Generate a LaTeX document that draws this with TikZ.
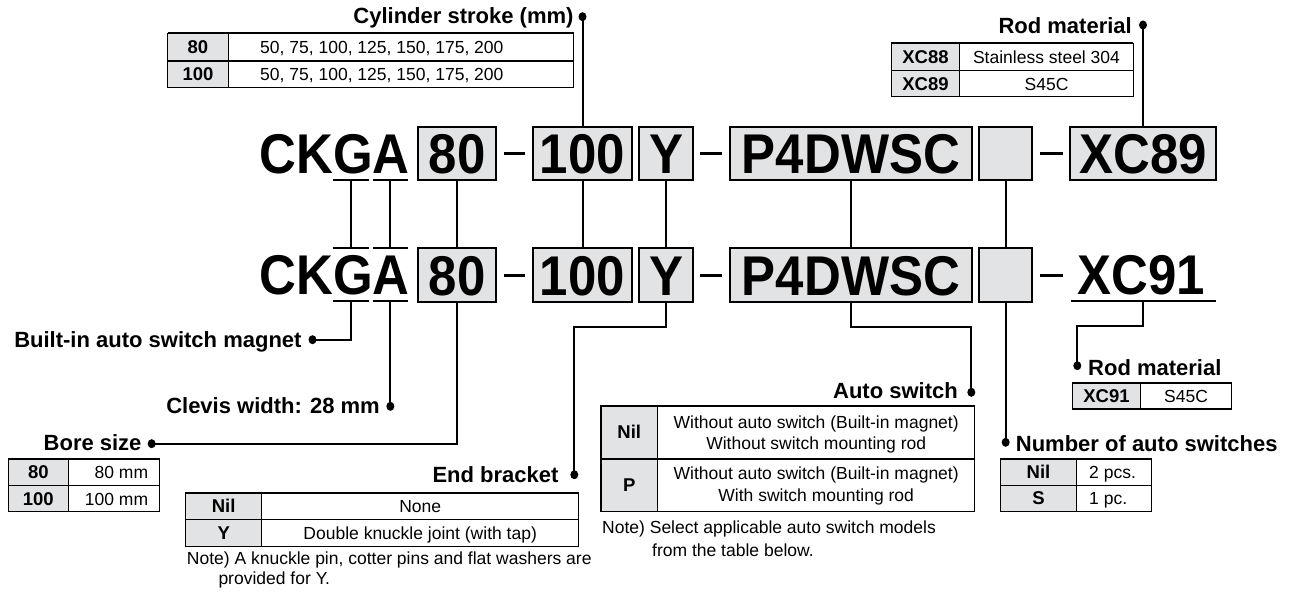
\documentclass[tikz,border=0pt]{standalone}
\usepackage{fontspec}
\setmainfont{Liberation Sans}
\newfontfamily\codefont[FakeStretch=0.91]{Liberation Sans}
\usetikzlibrary{shapes.geometric}
\definecolor{cellgray}{HTML}{E2E3E5}
\tikzset{
  codebox/.style={draw, line width=2.2pt, fill=cellgray, minimum height=53.3pt, inner sep=0pt,
    text height=40pt, text depth=0pt, font=\codefont\bfseries\fontsize{56}{56}\selectfont},
  codetext/.style={inner sep=0pt, font=\codefont\bfseries\fontsize{56}{56}\selectfont},
  lbl/.style={inner sep=0pt, font=\bfseries\fontsize{22}{22}\selectfont},
  cell/.style={inner sep=0pt, font=\fontsize{17.5}{21}\selectfont},
  bcell/.style={inner sep=0pt, font=\bfseries\fontsize{18.5}{21}\selectfont},
  conn/.style={line width=2pt},
  codedash/.style={line width=3pt},
  uline/.style={line width=2pt},
  tframe/.style={line width=1.2pt},
  ttop/.style={line width=2.4pt},
  dotnode/.style={ellipse, fill=black, inner sep=0pt, minimum width=8pt, minimum height=9pt},
}
\begin{document}
\begin{tikzpicture}[x=1pt,y=-1pt]
\useasboundingbox (0,0) rectangle (1295,596);

% ---------- row 1 ----------
\node[codetext, anchor=base west] (ckga1) at (259.3,173.3) {CKGA};
\draw[uline] (332.7,180) -- (369,180);
\draw[uline] (372.7,180) -- (408,180);
\coordinate (g1) at (350.85,180);
\coordinate (a1) at (390.35,180);
\node[codebox, minimum width=78pt]   (b80a) at (457.3,153.3) {80};
\draw[codedash] (503.7,153.3) -- (525.3,153.3);
\node[codebox, minimum width=99pt]   (b100a) at (582.5,153.3) {100};
\node[codebox, minimum width=53.4pt] (bYa) at (666,153.3) {Y};
\draw[codedash] (700.3,153.3) -- (722,153.3);
\node[codebox, minimum width=242.6pt] (bPa) at (851,153.3) {P4DWSC};
\node[codebox, minimum width=53.3pt] (bEa) at (1005.65,153.3) {};
\draw[codedash] (1039.7,153.3) -- (1063,153.3);
\node[codebox, minimum width=146.6pt] (bXa) at (1143,153.3) {XC89};

% ---------- row 2 ----------
\node[codetext, anchor=base west] (ckga2) at (259.3,294.9) {CKGA};
\draw[uline] (332.7,248.3) -- (369,248.3);
\draw[uline] (372.7,248.3) -- (408,248.3);
\draw[uline] (332.7,301.3) -- (369,301.3);
\draw[uline] (372.7,301.3) -- (408,301.3);
\coordinate (g2t) at (350.85,248.3);
\coordinate (a2t) at (390.35,248.3);
\coordinate (g2b) at (350.85,301.3);
\coordinate (a2b) at (390.35,301.3);
\node[codebox, minimum width=78pt]   (b80b) at (457.3,275) {80};
\draw[codedash] (503.7,275) -- (525.3,275);
\node[codebox, minimum width=99pt]   (b100b) at (582.5,275) {100};
\node[codebox, minimum width=53.4pt] (bYb) at (666,275) {Y};
\draw[codedash] (700.3,275) -- (722,275);
\node[codebox, minimum width=242.6pt] (bPb) at (851,275) {P4DWSC};
\node[codebox, minimum width=53.3pt] (bEb) at (1005.65,275) {};
\draw[codedash] (1039.7,275) -- (1063,275);
\node[codetext, anchor=base] (x91) at (1141,294.9) {XC91};
\draw[uline] (1070.7,300.7) -- (1215.7,300.7);
\coordinate (u91) at (1143.3,300.7);

% ---------- links between rows ----------
\draw[conn] (g1) -- (g2t);
\draw[conn] (a1) -- (a2t);
\draw[conn] (b80a.south) -- (b80b.north);
\draw[conn] (b100a.south) -- (b100b.north);
\draw[conn] (bYa.south) -- (bYb.north);
\draw[conn] (bPa.south) -- (bPb.north);
\draw[conn] (bEa.south) -- (bEb.north);

% ---------- Cylinder stroke ----------
\node[lbl, anchor=base east] (lcyl) at (573.7,24) {Cylinder stroke (mm)};
\node[dotnode] (dcyl) at (582.5,16.7) {};
\draw[conn] (b100a.north) -- (dcyl.center);
\fill[cellgray] (167.7,33.3) rectangle (228.3,87.7);
\draw[tframe] (167.7,33.3) rectangle (573.7,87.7);
\draw[tframe] (228.3,33.3) -- (228.3,87.7) (167.7,61) -- (573.7,61);
\draw[ttop] (167.7,33.3) -- (573.7,33.3);
\node[bcell, anchor=base] (cs1k) at (198,53.8) {80};
\node[bcell, anchor=base] (cs2k) at (198,80.8) {100};
\node[cell, anchor=base west] (cs1v) at (260,53.8) {50, 75, 100, 125, 150, 175, 200};
\node[cell, anchor=base west] (cs2v) at (260,80.8) {50, 75, 100, 125, 150, 175, 200};

% ---------- Rod material (top) ----------
\node[lbl, anchor=base east] (lrod1) at (1132,34) {Rod material};
\node[dotnode] (drod1) at (1143,25) {};
\draw[conn] (bXa.north) -- (drod1.center);
\fill[cellgray] (891.3,43.3) rectangle (959.7,96.7);
\draw[tframe] (891.3,43.3) rectangle (1133.3,96.7);
\draw[tframe] (959.7,43.3) -- (959.7,96.7) (891.3,70.7) -- (1133.3,70.7);
\draw[ttop] (891.3,43.3) -- (1133.3,43.3);
\node[bcell, anchor=base] (r1k) at (925.5,63.6) {XC88};
\node[bcell, anchor=base] (r2k) at (925.5,90.3) {XC89};
\node[cell, anchor=base] (r1v) at (1046.5,63.6) {Stainless steel 304};
\node[cell, anchor=base] (r2v) at (1046.5,90.3) {S45C};

% ---------- Built-in auto switch magnet ----------
\node[lbl, anchor=base east] (lmag) at (301.7,347.3) {Built-in auto switch magnet};
\node[dotnode] (dmag) at (312.5,339.7) {};
\draw[conn] (g2b) |- (dmag.center);

% ---------- Clevis width ----------
\node[lbl, anchor=base east] (lclev) at (380,413) {Clevis width: 28 mm};
\node[dotnode] (dclev) at (390.35,406.3) {};
\draw[conn] (a2b) -- (dclev.center);

% ---------- Bore size ----------
\node[lbl, anchor=base east] (lbore) at (141.7,450.7) {Bore size};
\node[dotnode] (dbore) at (151.7,443.7) {};
\draw[conn] (b80b.south) |- (dbore.center);
\fill[cellgray] (8.3,459) rectangle (68.3,511.3);
\draw[tframe] (8.3,459) rectangle (159.3,511.3);
\draw[tframe] (68.3,459) -- (68.3,511.3) (8.3,485.7) -- (159.3,485.7);
\draw[ttop] (8.3,459) -- (159.3,459);
\node[bcell, anchor=base] (bo1k) at (38.3,478.9) {80};
\node[bcell, anchor=base] (bo2k) at (38.3,505.1) {100};
\node[cell, anchor=base east] (bo1v) at (148.3,478.9) {80 mm};
\node[cell, anchor=base east] (bo2v) at (148.3,505.1) {100 mm};

% ---------- End bracket ----------
\node[lbl, anchor=base east] (lend) at (558.7,482.3) {End bracket};
\node[dotnode] (dend) at (574.3,474.7) {};
\draw[conn] (bYb.south) -- ++(0,24.1) -| (dend.center);
\fill[cellgray] (185.7,493) rectangle (261.7,546.3);
\draw[tframe] (185.7,493) rectangle (578.7,546.3);
\draw[tframe] (261.7,493) -- (261.7,546.3) (185.7,519.7) -- (578.7,519.7);
\draw[ttop] (185.7,493) -- (578.7,493);
\node[bcell, anchor=base] (e1k) at (223.7,512.9) {Nil};
\node[bcell, anchor=base] (e2k) at (223.7,539.6) {Y};
\node[cell, anchor=base] (e1v) at (420.2,512.9) {None};
\node[cell, anchor=base] (e2v) at (420.2,539.6) {Double knuckle joint (with tap)};
\node[cell, anchor=base west] (enote1) at (186.7,564.7) {Note) A knuckle pin, cotter pins and flat washers are};
\node[cell, anchor=base west] (enote2) at (218.3,584) {provided for Y.};

% ---------- Auto switch ----------
\node[lbl, anchor=base east] (lauto) at (958,398.5) {Auto switch};
\node[dotnode] (dauto) at (971.3,392.3) {};
\draw[conn] (bPb.south) -- ++(0,24.1) -| (dauto.center);
\fill[cellgray] (601,405.7) rectangle (657.7,511.3);
\draw[tframe] (601,405.7) rectangle (974.7,511.3);
\draw[tframe] (657.7,405.7) -- (657.7,511.3) (601,459) -- (974.7,459);
\draw[ttop] (601,405.7) -- (974.7,405.7);
\node[bcell, anchor=base] (au1k) at (629.3,438.9) {Nil};
\node[bcell, anchor=base] (au2k) at (629.3,491.8) {P};
\node[cell, anchor=base] (au1a) at (816.2,428) {Without auto switch (Built-in magnet)};
\node[cell, anchor=base] (au1b) at (816.2,449.7) {Without switch mounting rod};
\node[cell, anchor=base] (au2a) at (816.2,479.7) {Without auto switch (Built-in magnet)};
\node[cell, anchor=base] (au2b) at (816.2,501.3) {With switch mounting rod};
\node[cell, anchor=base west] (anote1) at (602,533) {Note) Select applicable auto switch models};
\node[cell, anchor=base west] (anote2) at (652,556.3) {from the table below.};

% ---------- Number of auto switches ----------
\node[dotnode] (dnum) at (1005.65,442.3) {};
\node[lbl, anchor=base west] (lnum) at (1015.7,451.3) {Number of auto switches};
\draw[conn] (bEb.south) -- (dnum.center);
\fill[cellgray] (1000.7,458.7) rectangle (1076.3,511.3);
\draw[tframe] (1000.7,458.7) rectangle (1151.3,511.3);
\draw[tframe] (1076.3,458.7) -- (1076.3,511.3) (1000.7,485.3) -- (1151.3,485.3);
\draw[ttop] (1000.7,458.7) -- (1151.3,458.7);
\node[bcell, anchor=base] (n1k) at (1038.5,478.6) {Nil};
\node[bcell, anchor=base] (n2k) at (1038.5,504.9) {S};
\node[cell, anchor=base west] (n1v) at (1089,478.6) {2 pcs.};
\node[cell, anchor=base west] (n2v) at (1089,504.9) {1 pc.};

% ---------- Rod material (bottom) ----------
\node[dotnode] (drod2) at (1077.3,365.7) {};
\node[lbl, anchor=base west] (lrod2) at (1088,375.3) {Rod material};
\draw[conn] (u91) -- ++(0,25.6) -| (drod2.center);
\fill[cellgray] (1072.3,383) rectangle (1140.7,409);
\draw[tframe] (1072.3,383) rectangle (1231.3,409);
\draw[tframe] (1140.7,383) -- (1140.7,409);
\draw[ttop] (1072.3,383) -- (1231.3,383);
\node[bcell, anchor=base] (x1k) at (1106.5,402.6) {XC91};
\node[cell, anchor=base] (x1v) at (1186,402.6) {S45C};
\end{tikzpicture}
\end{document}
